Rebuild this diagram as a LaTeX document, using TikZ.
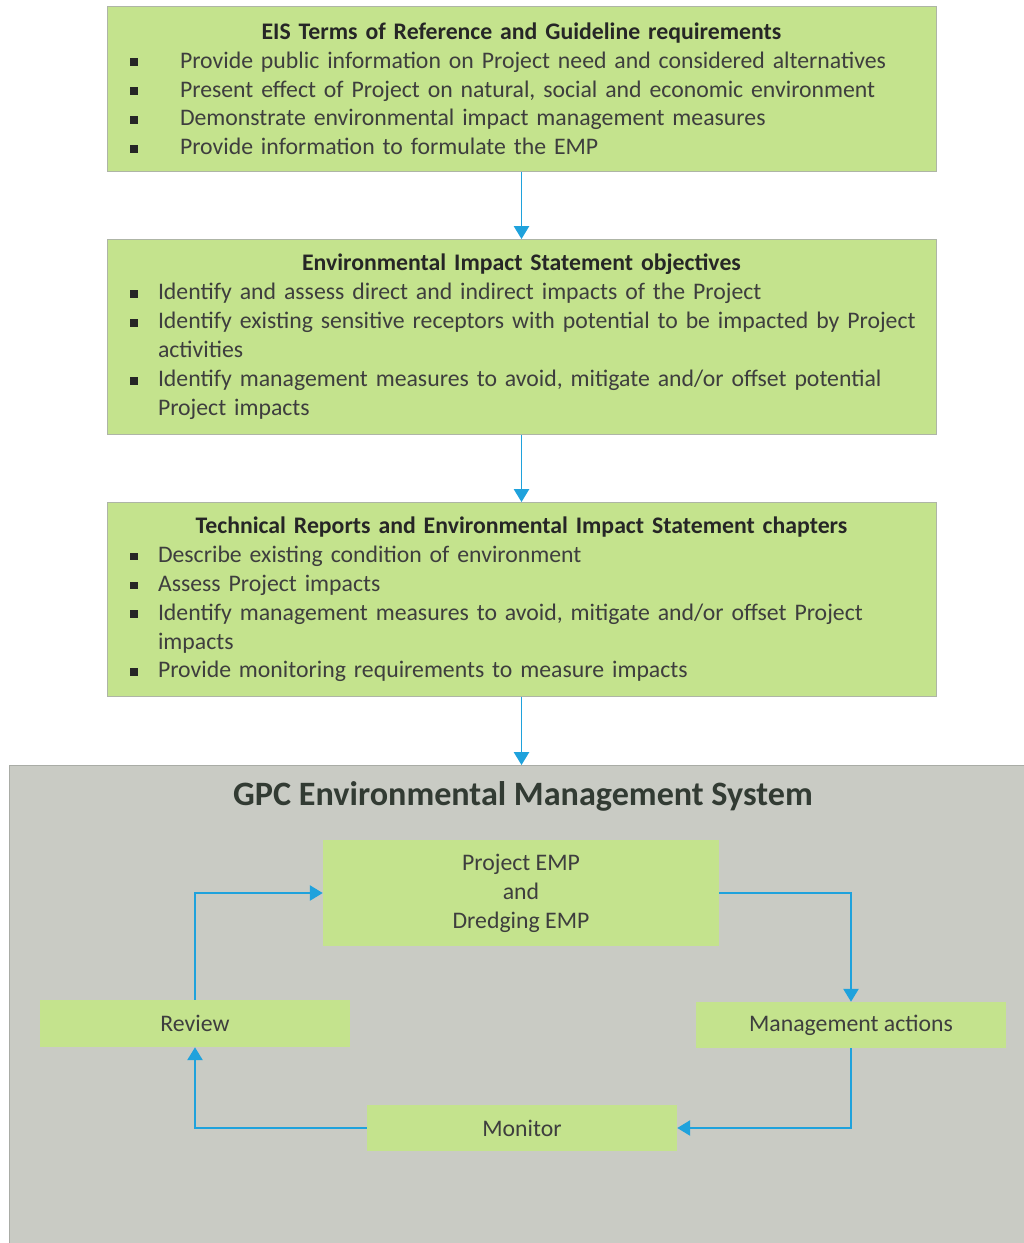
\documentclass[tikz,border=0pt]{standalone}
\usepackage{fontspec}
\setmainfont{Carlito}
\usepackage{xcolor}
\usepackage{tikz}
\usetikzlibrary{arrows.meta, positioning, calc}
\definecolor{leafgreen}{HTML}{C4E38D}
\definecolor{leafedge}{HTML}{AEB5A6}
\definecolor{emsgrey}{HTML}{C9CBC4}
\definecolor{emsedge}{HTML}{A9ACA6}
\definecolor{flowblue}{HTML}{1FA2DC}
\definecolor{bodyink}{HTML}{3E3E3E}
\definecolor{headink}{HTML}{262626}
\definecolor{emsink}{HTML}{323B33}

% square bullet and one bullet line (#1 = text indent)
\newcommand{\bulmark}{\raisebox{0.05cm}{\rule{0.19cm}{0.19cm}}}
\newcommand{\bitem}[2][1.275cm]{\par\noindent\hangindent=#1\hangafter=1%
  \makebox[#1][l]{\hspace{0.58cm}{\color{headink}\bulmark}}#2\par}
\newcommand{\boxhead}[1]{\makebox[\linewidth]{\bfseries\color{headink}#1}}

\begin{document}
\begin{tikzpicture}[>={Triangle[width=0.38cm,length=0.32cm]}]
    \tikzstyle{textbox} = [rectangle, fill=leafgreen, draw=leafedge, line width=0.4pt,
      anchor=north, inner xsep=0pt, inner ysep=0pt, text width=20.725cm, align=left,
      text=bodyink, font=\fontsize{16.9}{20.6}\selectfont]
    \tikzstyle{stage} = [rectangle, fill=leafgreen, minimum width=7.75cm, minimum height=1.15cm,
      text=bodyink, font=\fontsize{16.9}{20.6}\selectfont, align=center]
    \tikzstyle{flow} = [->, draw=flowblue, line width=1pt]

    \useasboundingbox (0,0) rectangle (25.6,-31.075);

    % three stacked requirement boxes
    \node (eis) [textbox, minimum height=4.125cm] at (13.0375,-0.15) {%
      \boxhead{EIS Terms of Reference and Guideline requirements}
      \bitem[1.825cm]{Provide public information on Project need and considered alternatives}
      \bitem[1.825cm]{Present effect of Project on natural, social and economic environment}
      \bitem[1.825cm]{Demonstrate environmental impact management measures}
      \bitem[1.825cm]{Provide information to formulate the EMP}};

    \node (objectives) [textbox, minimum height=4.875cm] at (13.0375,-5.975) {%
      \boxhead{Environmental\ Impact Statement objectives}
      \bitem{Identify and assess direct and indirect impacts of the Project}
      \bitem{Identify existing sensitive receptors with potential to be impacted by Project\newline activities}
      \bitem{Identify management measures to avoid, mitigate and/or offset potential\newline Project impacts}};

    \node (chapters) [textbox, minimum height=4.85cm] at (13.0375,-12.55) {%
      \boxhead{Technical Reports and Environmental\ Impact Statement chapters}
      \bitem{Describe existing condition of environment}
      \bitem{Assess Project impacts}
      \bitem{Identify management measures to avoid, mitigate and/or offset Project\newline impacts}
      \bitem{Provide monitoring requirements to measure impacts}};

    % management system panel
    \node (ems) [rectangle, fill=emsgrey, draw=emsedge, line width=0.5pt, anchor=north west,
      minimum width=25.4cm, minimum height=11.975cm] at (0.225,-19.125) {};
    \node (emstitle) [text=emsink, font=\fontsize{24.3}{29}\selectfont\bfseries]
      at (13.075,-19.9) {GPC Environmental Management System};

    \node (emp)     [stage, minimum width=9.9cm, minimum height=2.65cm] at (13.025,-22.325)
      {Project EMP\\and\\Dredging EMP};
    \node (actions) [stage] at (21.275,-25.625) {Management actions};
    \node (monitor) [stage] at (13.05,-28.2) {Monitor};
    \node (review)  [stage, minimum height=1.175cm] at (4.875,-25.5875) {Review};

    % box -> box
    \draw [flow] (eis.south) -- (objectives.north);
    \draw [flow] (objectives.south) -- (chapters.north);
    \draw [flow] (chapters.south) -- (chapters.south |- ems.north);

    % EMP cycle
    \draw [flow] (emp.east) -| (actions.north);
    \draw [flow] (actions.south) |- (monitor.east);
    \draw [flow] (monitor.west) -| (review.south);
    \draw [flow] (review.north) |- (emp.west);
\end{tikzpicture}
\end{document}
